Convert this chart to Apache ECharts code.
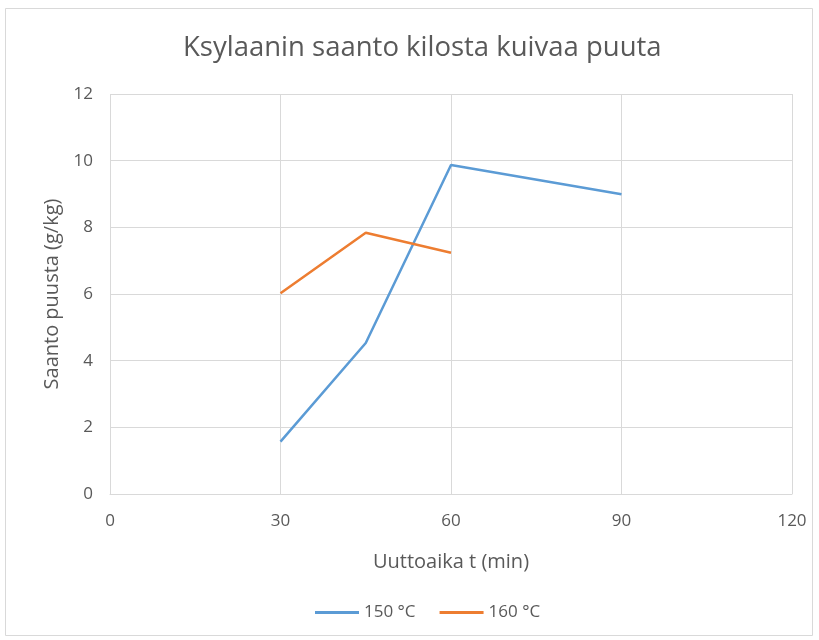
<!DOCTYPE html>
<html>
<head>
<meta charset="utf-8">
<script src="https://cdn.jsdelivr.net/npm/echarts@6/dist/echarts.min.js"></script>
<style>
html, body { margin: 0; padding: 0; background: #fff; }
#chart { width: 819px; height: 640px; }
</style>
</head>
<body>
<div id="chart"></div>
<script>
// Extraction time (min) and xylan yield (g per kg dry wood)
const times150 = [30, 45, 60, 90];
const yield150 = [1.57, 4.53, 9.87, 8.99];
const times160 = [30, 45, 60];
const yield160 = [6.02, 7.84, 7.24];
const seriesNames = ['150 °C', '160 °C'];

const font = '"Open Sans", Lato, sans-serif';
const textColor = '#595959';

const chart = echarts.init(document.getElementById('chart'));
chart.setOption({
  backgroundColor: '#fff',
  animation: false,
  graphic: [{
    type: 'rect',
    shape: { x: 5.5, y: 8.5, width: 807, height: 627 },
    style: { fill: 'none', stroke: '#d9d9d9', lineWidth: 1 },
    silent: true
  }],
  title: {
    text: 'Ksylaanin saanto kilosta kuivaa puuta',
    left: 178,
    top: 29,
    textStyle: { fontFamily: font, fontSize: 27.5, fontWeight: 'normal', color: textColor }
  },
  legend: {
    bottom: 14,
    left: 310,
    itemWidth: 44,
    itemHeight: 3,
    itemGap: 24,
    icon: 'rect',
    textStyle: { fontFamily: font, fontSize: 17, color: textColor },
    data: seriesNames
  },
  grid: { left: 110, right: 27, top: 94, bottom: 146 },
  xAxis: {
    type: 'value',
    min: 0, max: 120, interval: 30,
    name: 'Uuttoaika t (min)',
    nameLocation: 'middle',
    nameGap: 58,
    nameTextStyle: { fontFamily: font, fontSize: 20, color: textColor },
    axisLine: { show: true, lineStyle: { color: '#d9d9d9' } },
    axisTick: { show: false },
    axisLabel: { fontFamily: font, fontSize: 17, color: textColor, margin: 19 },
    splitLine: { show: true, lineStyle: { color: '#d9d9d9' } }
  },
  yAxis: {
    type: 'value',
    min: 0, max: 12, interval: 2,
    name: 'Saanto puusta (g/kg)',
    nameLocation: 'middle',
    nameGap: 40,
    nameTextStyle: { fontFamily: font, fontSize: 20, color: textColor },
    axisLine: { show: false },
    axisTick: { show: false },
    axisLabel: { fontFamily: font, fontSize: 17, color: textColor, margin: 17 },
    splitLine: { show: true, lineStyle: { color: '#d9d9d9' } }
  },
  series: [
    {
      name: seriesNames[0],
      type: 'line',
      data: times150.map((t, i) => [t, yield150[i]]),
      showSymbol: false,
      lineStyle: { color: '#5B9BD5', width: 2.5 },
      itemStyle: { color: '#5B9BD5' }
    },
    {
      name: seriesNames[1],
      type: 'line',
      data: times160.map((t, i) => [t, yield160[i]]),
      showSymbol: false,
      lineStyle: { color: '#ED7D31', width: 2.5 },
      itemStyle: { color: '#ED7D31' }
    }
  ]
});
</script>
</body>
</html>
